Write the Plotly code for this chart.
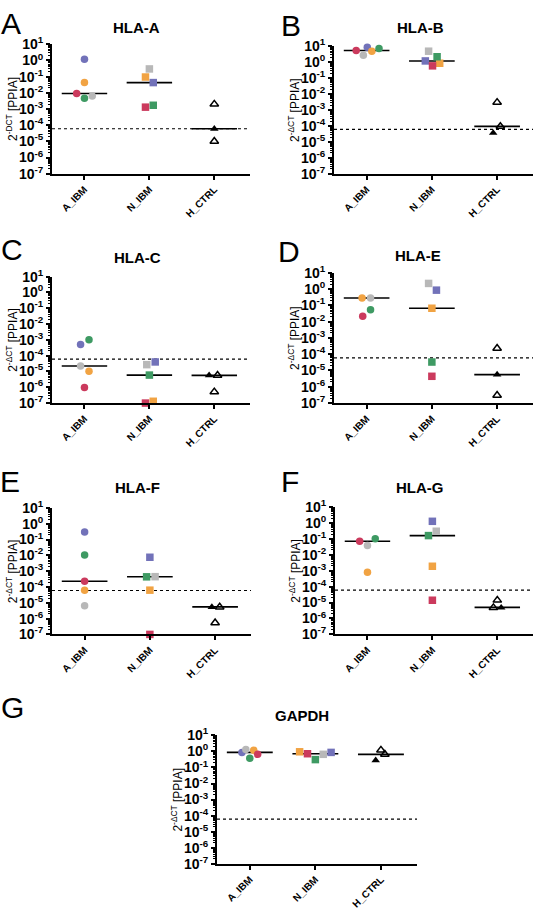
import plotly.graph_objects as go

W, H = 534, 911
GROUPS = ["A_IBM", "N_IBM", "H_CTRL"]
# patient order: purple, orange, green, red, gray
PATIENT_COLORS = ["#7272b9", "#f1a343", "#3e9a63", "#cb3a5d", "#b8b8b8"]
LOD = 6e-5

# ---------------- data (2^-dCT relative to PPIA) ----------------
hla_a_aibm = [1.2, 0.043, 4.6e-3, 9e-3, 6.3e-3]
hla_a_nibm = [0.043, 0.095, 1.7e-3, 1.3e-3, 0.3]
hla_a_ctrl_open = [2e-3, 1e-5]
hla_a_ctrl_filled = [6e-5]
hla_a_medians = [9e-3, 0.043, 6e-5]

hla_b_aibm = [8.7, 4.9, 7.2, 5.4, 2.7]
hla_b_nibm = [1.2, 0.86, 2.2, 0.59, 4.9]
hla_b_ctrl_open = [3e-3, 9.3e-5]
hla_b_ctrl_filled = [3.6e-5]
hla_b_medians = [5.4, 1.2, 9.3e-5]

hla_c_aibm = [5.1e-4, 1.05e-5, 1e-3, 9.6e-7, 2.2e-5]
hla_c_nibm = [4e-5, 1.3e-7, 5.9e-6, 1e-7, 2.7e-5]
hla_c_ctrl_open = [5.7e-6, 5.1e-7]
hla_c_ctrl_filled = [5.7e-6]
hla_c_medians = [2.2e-5, 5.9e-6, 5.7e-6]

hla_e_aibm = [None, 0.28, 0.053, 0.021, 0.28]
hla_e_nibm = [0.85, 0.066, 3.3e-5, 4.4e-6, 2.2]
hla_e_ctrl_open = [2.3e-4, 3e-7]
hla_e_ctrl_filled = [5.6e-6]
hla_e_medians = [0.28, 0.066, 5.6e-6]

hla_f_aibm = [0.3, 6.3e-5, 0.0107, 2.3e-4, 6.5e-6]
hla_f_nibm = [7.6e-3, 6.3e-5, 4.4e-4, 1e-7, 4.5e-4]
hla_f_ctrl_open = [5.4e-6, 5.4e-7]
hla_f_ctrl_filled = [5.4e-6]
hla_f_medians = [2.3e-4, 4.4e-4, 5.5e-6]

hla_g_aibm = [None, 7.9e-4, 0.1, 0.07, 0.038]
hla_g_nibm = [1.26, 1.9e-3, 0.16, 1.4e-5, 0.3]
hla_g_ctrl_open = [1.4e-5, 4.8e-6]
hla_g_ctrl_filled = [4.8e-6]
hla_g_medians = [0.07, 0.16, 5e-6]

gapdh_aibm = [0.87, 1.2, 0.37, 0.66, 1.32]
gapdh_nibm = [0.87, 0.95, 0.31, 0.72, 0.66]
gapdh_ctrl_open = [1.2, 0.66]
gapdh_ctrl_filled = [0.28]
gapdh_medians = [0.87, 0.72, 0.66]

# ---------------- horizontal scatter spread (style) ----------------
spread = {
    "A": ([0, 0, 0, -0.12, 0.12], [0.06, -0.06, 0.06, -0.06, 0], [0, 0], [0]),
    "B": ([0.01, 0.08, 0.19, -0.16, -0.05], [-0.1, 0.12, 0.08, 0.01, -0.05], [0, 0.05], [-0.06]),
    "C": ([-0.06, 0.07, 0.07, 0, -0.06], [0.09, 0.06, 0, -0.06, -0.04], [0.05, 0], [-0.08]),
    "E": ([0, -0.07, 0.06, -0.06, 0.06], [0.07, 0, 0, 0, -0.05], [0, 0], [0]),
    "F": ([0, 0, 0, 0, 0], [0, 0, -0.05, 0, 0.08], [0.07, 0], [-0.05]),
    "G": ([0, 0, 0.12, -0.12, 0], [0, 0, -0.06, 0, 0.06], [0, -0.06], [0.06]),
    "GAPDH": ([-0.12, 0.06, 0, 0.12, -0.06], [0.24, -0.24, 0, -0.12, 0.12], [0, 0.06], [-0.08]),
}

# panel geometry in pixels: (x0, x1, ytop, ybottom)
panels = [
    ("HLA-A", "-DCT", hla_a_aibm, hla_a_nibm, hla_a_ctrl_open, hla_a_ctrl_filled, hla_a_medians,
     spread["A"], (52, 250, 35, 167), (11, 14), (136, 18), "A"),
    ("HLA-B", "-ΔCT", hla_b_aibm, hla_b_nibm, hla_b_ctrl_open, hla_b_ctrl_filled, hla_b_medians,
     spread["B"], (334, 533, 37, 167), (291, 16), (420, 18), "B"),
    ("HLA-C", "-ΔCT", hla_c_aibm, hla_c_nibm, hla_c_ctrl_open, hla_c_ctrl_filled, hla_c_medians,
     spread["C"], (52, 250, 272, 401), (12, 244), (137, 252), "C"),
    ("HLA-E", "-ΔCT", hla_e_aibm, hla_e_nibm, hla_e_ctrl_open, hla_e_ctrl_filled, hla_e_medians,
     spread["E"], (334, 533, 268, 401), (289, 246), (418, 250), "D"),
    ("HLA-F", "-ΔCT", hla_f_aibm, hla_f_nibm, hla_f_ctrl_open, hla_f_ctrl_filled, hla_f_medians,
     spread["F"], (52, 251, 508, 637), (10, 481), (137, 487), "E"),
    ("HLA-G", "-ΔCT", hla_g_aibm, hla_g_nibm, hla_g_ctrl_open, hla_g_ctrl_filled, hla_g_medians,
     spread["G"], (335, 533, 507, 637), (290, 481), (420, 487), "F"),
    ("GAPDH", "-ΔCT", gapdh_aibm, gapdh_nibm, gapdh_ctrl_open, gapdh_ctrl_filled, gapdh_medians,
     spread["GAPDH"], (217, 417, 740, 871), (12, 712), (302, 720), "G"),
]

FONT = "Liberation Sans, Arial, Helvetica, sans-serif"
exps = list(range(-7, 2))
ytickvals = [10.0 ** e for e in exps]
yticktext = [f"<b>10<sup>{e}</sup></b>" for e in exps]
yminorvals = [k * 10.0 ** e for e in range(-7, 1) for k in range(2, 10)]
xticktext = [f"<b>{g}</b>" for g in GROUPS]
XR = [-0.5, 2.55]
HALF = 0.35

fig = go.Figure()
layout_axes = {}
annotations = []

for i, (title, ylab, aibm, nibm, c_open, c_fill, meds, sp, geo, letter_pos, title_pos, letter) in enumerate(panels):
    n = i + 1
    xname = "x" if n == 1 else f"x{n}"
    yname = "y" if n == 1 else f"y{n}"
    x0, x1, yt, yb = geo
    dom_x = [x0 / W, x1 / W]
    dom_y = [1 - yb / H, 1 - yt / H]

    # LOD dashed line
    fig.add_trace(go.Scatter(x=XR, y=[LOD, LOD], mode="lines", xaxis=xname, yaxis=yname,
                             line=dict(color="black", width=1.2, dash="dot"), hoverinfo="skip"))
    # median lines
    for g, m in enumerate(meds):
        fig.add_trace(go.Scatter(x=[g - HALF, g + HALF], y=[m, m], mode="lines", xaxis=xname, yaxis=yname,
                                 line=dict(color="black", width=1.6), hoverinfo="skip"))
    # patient points
    for g, (vals, dxs, sym) in enumerate([(aibm, sp[0], "circle"), (nibm, sp[1], "square")]):
        for p, v in enumerate(vals):
            if v is None:
                continue
            fig.add_trace(go.Scatter(x=[g + dxs[p]], y=[v], mode="markers", xaxis=xname, yaxis=yname,
                                     cliponaxis=False,
                                     marker=dict(symbol=sym, size=7.5, color=PATIENT_COLORS[p], line=dict(width=0))))
    # controls
    fig.add_trace(go.Scatter(x=[2 + d for d in sp[2]], y=c_open, mode="markers", xaxis=xname, yaxis=yname,
                             cliponaxis=False,
                             marker=dict(symbol="triangle-up-open", size=7.5, color="black", line=dict(width=1.5))))
    fig.add_trace(go.Scatter(x=[2 + d for d in sp[3]], y=c_fill, mode="markers", xaxis=xname, yaxis=yname,
                             cliponaxis=False,
                             marker=dict(symbol="triangle-up", size=7.5, color="black")))

    layout_axes["xaxis" if n == 1 else f"xaxis{n}"] = dict(
        domain=dom_x, range=XR, anchor=yname, tickmode="array", tickvals=[0, 1, 2], ticktext=xticktext,
        tickangle=-45, ticks="outside", ticklen=4, tickwidth=1.5, tickcolor="black",
        showline=True, linewidth=2, linecolor="black", showgrid=False, zeroline=False,
        tickfont=dict(family=FONT, size=10, color="black"))
    layout_axes["yaxis" if n == 1 else f"yaxis{n}"] = dict(
        domain=dom_y, type="log", range=[-7, 1], anchor=xname, tickmode="array",
        tickvals=ytickvals, ticktext=yticktext, ticks="outside", ticklen=4, tickwidth=1.5, tickcolor="black",
        showline=True, linewidth=2, linecolor="black", showgrid=False, zeroline=False,
        minor=dict(ticks="outside", ticklen=2, tickwidth=1, tickcolor="black",
                   tickmode="array", tickvals=yminorvals, showgrid=False),
        tickfont=dict(family=FONT, size=14, color="black"))

    annotations.append(dict(text=f"<b>{title}</b>", x=title_pos[0] / W, y=1 - title_pos[1] / H,
                            xref="paper", yref="paper", showarrow=False, xanchor="center", yanchor="middle",
                            font=dict(family=FONT, size=15, color="black")))
    annotations.append(dict(text=letter, x=letter_pos[0] / W, y=1 - letter_pos[1] / H,
                            xref="paper", yref="paper", showarrow=False, xanchor="center", yanchor="middle",
                            font=dict(family=FONT, size=30, color="black")))
    annotations.append(dict(text=f"2<sup>{ylab}</sup> [PPIA]", x=(x0 - 40) / W, y=1 - (yt + yb) / 2 / H,
                            xref="paper", yref="paper", showarrow=False, textangle=-90,
                            xanchor="center", yanchor="middle",
                            font=dict(family=FONT, size=12, color="black")))

fig.update_layout(width=W, height=H, autosize=False, showlegend=False,
                  margin=dict(l=0, r=0, t=0, b=0), paper_bgcolor="white", plot_bgcolor="white",
                  annotations=annotations, **layout_axes)

fig.write_html("out.html", config={"displayModeBar": False},
               post_script="document.body.style.margin='0';document.body.style.overflow='hidden';")
